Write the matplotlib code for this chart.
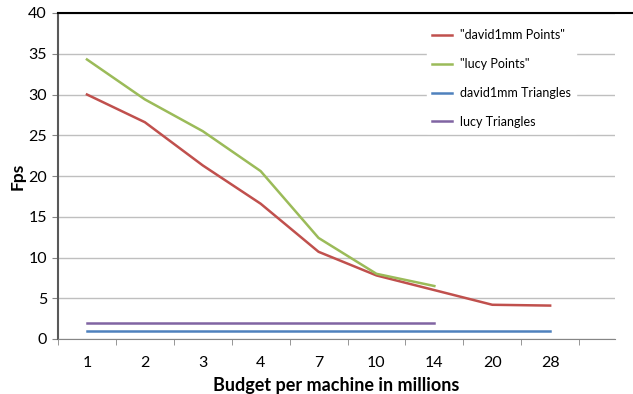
import matplotlib.pyplot as plt
from matplotlib.lines import Line2D
import numpy as np

budgets = ["1", "2", "3", "4", "7", "10", "14", "20", "28"]
david_points = [30.0, 26.6, 21.3, 16.6, 10.7, 7.8, 6.0, 4.2, 4.1]
lucy_points = [34.3, 29.4, 25.5, 20.6, 12.4, 8.0, 6.5]
david_tri = [1, 1, 1, 1, 1, 1, 1, 1, 1]
lucy_tri = [2, 2, 2, 2, 2, 2, 2]

plt.rcParams['font.family'] = ['Lato', 'DejaVu Sans']

fig = plt.figure(figsize=(6.33, 3.94), dpi=100)
ax = fig.add_axes([58/633, 55/394, 557/633, 326/394])

x = np.arange(len(budgets))
ax.plot(x, david_points, color='#c0504d', lw=1.8, label='"david1mm Points"')
ax.plot(x[:len(lucy_points)], lucy_points, color='#9bbb59', lw=1.8, label='"lucy Points"')
ax.plot(x, david_tri, color='#4f81bd', lw=1.8, label='david1mm Triangles')
ax.plot(x[:len(lucy_tri)], lucy_tri, color='#8064a2', lw=1.8, label='lucy Triangles')

ax.set_ylim(0, 40)
ax.set_yticks(range(0, 41, 5))
ax.set_xlim(-0.5, 9.12)
ax.set_xticks(x)
ax.set_xticklabels(budgets)
ax.set_xticks(np.arange(-0.5, 9, 1), minor=True)
ax.tick_params(axis='x', which='major', length=0, pad=12, labelsize=11.5)
ax.tick_params(axis='x', which='minor', length=4, color='#868686')
ax.tick_params(axis='y', length=4, color='#868686', labelsize=11.5, pad=4)
ax.grid(axis='y', color='#bfbfbf', lw=1)
ax.set_axisbelow(True)

for s in ['top', 'right']:
    ax.spines[s].set_visible(False)
ax.spines['left'].set_color('#595959')
ax.spines['left'].set_linewidth(1.5)
ax.spines['bottom'].set_color('#868686')

# top border line of plot area
fig.add_artist(Line2D([58/633, 1.0], [1 - 13/394, 1 - 13/394], color='black', lw=1.5))

ax.set_ylabel('Fps', fontsize=12.5, fontweight='bold', labelpad=2)
ax.set_xlabel('Budget per machine in millions', fontsize=13, fontweight='bold', labelpad=5)

leg = ax.legend(loc='upper left', bbox_to_anchor=(0.652, 0.985), frameon=True, fontsize=9,
                handlelength=1.6, handletextpad=0.6, labelspacing=1.35, borderpad=0.4,
                fancybox=False)
leg.get_frame().set_edgecolor('white')
leg.get_frame().set_facecolor('white')
leg.get_frame().set_alpha(1)

fig.savefig('out.png', dpi=100)
